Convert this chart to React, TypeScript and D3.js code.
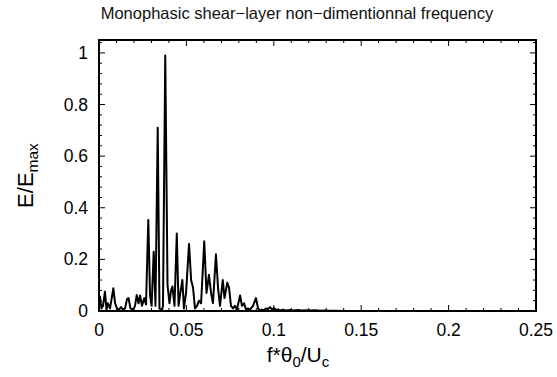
import React from "react";
import * as d3 from "d3";

const freq = [
  0, 0.0006, 0.0014, 0.0023, 0.0034, 0.0043, 0.0051, 0.0063, 0.0082, 0.0092,
  0.0103, 0.0114, 0.0126, 0.0137, 0.0149, 0.016, 0.0169, 0.018, 0.0195, 0.0206,
  0.0216, 0.0226, 0.0235, 0.0246, 0.0259, 0.0269, 0.0282, 0.0292, 0.0301, 0.0313,
  0.0323, 0.0336, 0.0346, 0.0359, 0.0366, 0.0379, 0.0392, 0.0403, 0.0412, 0.042,
  0.0432, 0.0445, 0.0455, 0.0463, 0.0477, 0.0486, 0.0498, 0.0515, 0.0527, 0.0538,
  0.0549, 0.0561, 0.0572, 0.0584, 0.0602, 0.0615, 0.0629, 0.0641, 0.0652, 0.0669,
  0.0681, 0.0692, 0.0708, 0.0718, 0.0734, 0.0744, 0.0755, 0.0767, 0.0778, 0.0789,
  0.0807, 0.0818, 0.083, 0.0841, 0.0852, 0.0864, 0.0881, 0.0898, 0.091, 0.0921,
  0.0932, 0.0944, 0.0955, 0.0967, 0.0978, 0.099, 0.1001, 0.1013, 0.1024, 0.1035,
  0.1053, 0.107, 0.1092, 0.1116, 0.1138, 0.1161, 0.1184, 0.1207, 0.1236, 0.1264,
  0.1293, 0.1321, 0.135, 0.1407, 0.16, 0.2, 0.25,
];

const energy = [
  0.04, 0.055, 0.01, 0.02, 0.075, 0.005, 0.03, 0.01, 0.088, 0.03,
  0.01, 0.005, 0.015, 0.005, 0.01, 0.045, 0.05, 0.01, 0.005, 0.02,
  0.062, 0.03, 0.06, 0.02, 0.05, 0.025, 0.353, 0.06, 0.02, 0.23,
  0.02, 0.71, 0.01, 0.0, 0.02, 0.99, 0.1, 0.03, 0.08, 0.095,
  0.02, 0.3, 0.02, 0.06, 0.12, 0.01, 0.07, 0.26, 0.12, 0.09,
  0.01, 0.02, 0.04, 0.03, 0.27, 0.07, 0.14, 0.07, 0.03, 0.22,
  0.09, 0.02, 0.12, 0.05, 0.11, 0.09, 0.02, 0.01, 0.02, 0.005,
  0.06, 0.02, 0.03, 0.005, 0.01, 0.005, 0.02, 0.05, 0.01, 0.003,
  0.005, 0.003, 0.01, 0.008, 0.015, 0.005, 0.012, 0.003, 0.006, 0.002,
  0.005, 0.002, 0.004, 0.002, 0.004, 0.002, 0.003, 0.002, 0.003, 0.001,
  0.002, 0.001, 0.001, 0.0, 0.0, 0.0, 0.0,
];

const xMajorTicks = [0, 0.05, 0.1, 0.15, 0.2, 0.25];
const xTickLabels = ["0", "0.05", "0.1", "0.15", "0.2", "0.25"];
const yMajorTicks = [0, 0.2, 0.4, 0.6, 0.8, 1];
const yTickLabels = ["0", "0.2", "0.4", "0.6", "0.8", "1"];

const W = 557;
const H = 377;
const L = 99;
const R = 536;
const T = 40;
const B = 311;

export default function App() {
  const x = d3.scaleLinear().domain([0, 0.25]).range([L, R]);
  const y = d3.scaleLinear().domain([0, 1.05]).range([B, T]);
  const pts = freq.map((f, i) => [f, energy[i]] as [number, number]);
  const line = d3
    .line<[number, number]>()
    .x((d) => x(d[0]))
    .y((d) => y(d[1]));

  const xMinor = d3.range(0, 26).map((i) => i * 0.01).filter((v) => Math.abs(v / 0.05 - Math.round(v / 0.05)) > 1e-6);
  const yMinor = d3.range(0, 27).map((i) => i * 0.04).filter((v) => v <= 1.05 && Math.abs(v / 0.2 - Math.round(v / 0.2)) > 1e-6);

  const font = "'Liberation Sans', Arial, Helvetica, sans-serif";
  const majLen = 6;
  const minLen = 3;

  return (
    <svg
      width={W}
      height={H}
      style={{ position: "absolute", left: 0, top: 0, background: "#fff" }}
      fontFamily={font}
    >
      <rect x={0} y={0} width={W} height={H} fill="#fff" />
      <defs>
        <clipPath id="plotclip">
          <rect x={L} y={T} width={R - L} height={B - T} />
        </clipPath>
      </defs>
      <text x={297} y={19} textAnchor="middle" fontSize={16.5} fill="#111">
        Monophasic shear−layer non−dimentionnal frequency
      </text>

      <path
        d={line(pts) || ""}
        fill="none"
        stroke="#000"
        strokeWidth={2}
        strokeLinejoin="round"
        clipPath="url(#plotclip)"
      />

      <g stroke="#000" strokeWidth={1}>
        {xMajorTicks.map((v, i) => (
          <g key={"xm" + i}>
            <line x1={x(v)} x2={x(v)} y1={B} y2={B - majLen} />
            <line x1={x(v)} x2={x(v)} y1={T} y2={T + majLen} />
          </g>
        ))}
        {xMinor.map((v, i) => (
          <g key={"xn" + i}>
            <line x1={x(v)} x2={x(v)} y1={B} y2={B - minLen} />
            <line x1={x(v)} x2={x(v)} y1={T} y2={T + minLen} />
          </g>
        ))}
        {yMajorTicks.map((v, i) => (
          <g key={"ym" + i}>
            <line x1={L} x2={L + majLen} y1={y(v)} y2={y(v)} />
            <line x1={R} x2={R - majLen} y1={y(v)} y2={y(v)} />
          </g>
        ))}
        {yMinor.map((v, i) => (
          <g key={"yn" + i}>
            <line x1={L} x2={L + minLen} y1={y(v)} y2={y(v)} />
            <line x1={R} x2={R - minLen} y1={y(v)} y2={y(v)} />
          </g>
        ))}
      </g>

      <rect x={L} y={T} width={R - L} height={B - T} fill="none" stroke="#000" strokeWidth={2} />

      {xMajorTicks.map((v, i) => (
        <text key={"xl" + i} x={x(v)} y={336} textAnchor="middle" fontSize={17.5} fill="#000">
          {xTickLabels[i]}
        </text>
      ))}
      {yMajorTicks.map((v, i) => (
        <text key={"yl" + i} x={88} y={y(v) + 6} textAnchor="end" fontSize={17.5} fill="#000">
          {yTickLabels[i]}
        </text>
      ))}

      <text x={298} y={362} textAnchor="middle" fontSize={21} fill="#000">
        f*θ
        <tspan fontSize={15} dy={5}>0</tspan>
        <tspan dy={-5}>/U</tspan>
        <tspan fontSize={15} dy={5}>c</tspan>
      </text>

      <text
        transform={`translate(33, ${(T + B) / 2}) rotate(-90)`}
        textAnchor="middle"
        fontSize={22}
        fill="#000"
      >
        E/E
        <tspan fontSize={15.5} dy={5}>max</tspan>
      </text>
    </svg>
  );
}
